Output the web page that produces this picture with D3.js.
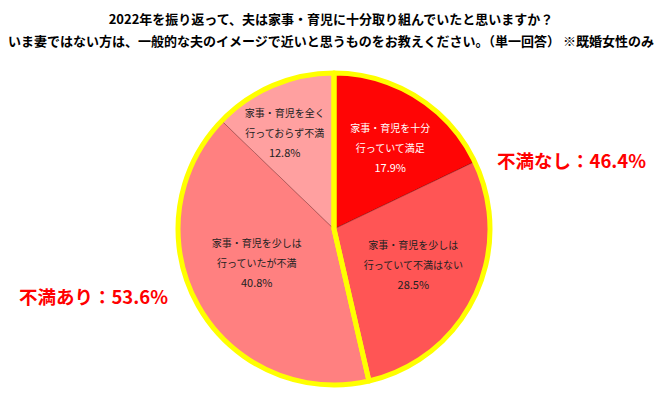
<!DOCTYPE html>
<html>
<head>
<meta charset="utf-8">
<script src="https://cdn.jsdelivr.net/npm/d3@7"></script>
<style>
  body { margin: 0; background: #fff; }
  text { font-family: "Noto Sans CJK JP", "Noto Sans", sans-serif; }
</style>
</head>
<body>
<div id="chart"></div>
<script>
var titleLines = [
  "2022年を振り返って、夫は家事・育児に十分取り組んでいたと思いますか？",
  "いま妻ではない方は、一般的な夫のイメージで近いと思うものをお教えください。（単一回答） ※既婚女性のみ"
]
var categories = [
  ["家事・育児を十分", "行っていて満足"],
  ["家事・育児を少しは", "行っていて不満はない"],
  ["家事・育児を少しは", "行っていたが不満"],
  ["家事・育児を全く", "行っておらず不満"]
]
var values = [17.9, 28.5, 40.8, 12.8]
var sliceColors = ["#ff0505", "#ff5555", "#ff8080", "#ffa0a0"]
var labelColors = ["#ffffff", "#222222", "#222222", "#222222"]
var groupNames = ["不満なし", "不満あり"]
var groupValues = [46.4, 53.6]

var width = 663,
  height = 397,
  cx = 334,
  cy = 229,
  radius = 156

// small shifts from the centroid so the labels sit like in the original
var labelNudge = [[4, 2], [-9, -7], [8, -14], [-11, -6]]

var svg = d3.select("#chart")
  .append("svg")
  .attr("width", width)
  .attr("height", height)

svg.selectAll("text.title")
  .data(titleLines)
  .enter()
  .append("text")
  .attr("class", "title")
  .attr("x", 331)
  .attr("y", function(d, i) { return 24 + i * 22 })
  .attr("text-anchor", "middle")
  .attr("font-size", "13px")
  .attr("font-weight", "bold")
  .attr("fill", "#000")
  .text(function(d) { return d })

var pie = d3.pie().sort(null).value(function(d) { return d })

var arc = d3.arc().innerRadius(0).outerRadius(radius)
var labelArc = d3.arc().innerRadius(98).outerRadius(98)

var g = svg.append("g")
  .attr("transform", "translate(" + cx + "," + cy + ")")

var slices = pie(values)

g.selectAll("path.slice")
  .data(slices)
  .enter()
  .append("path")
  .attr("class", "slice")
  .attr("d", arc)
  .attr("fill", function(d, i) { return sliceColors[i] })
  .attr("stroke", "rgba(90,0,0,0.35)")
  .attr("stroke-width", 1)

// yellow outline round the two groups
g.selectAll("path.group")
  .data(pie(groupValues))
  .enter()
  .append("path")
  .attr("class", "group")
  .attr("d", arc)
  .attr("fill", "none")
  .attr("stroke", "#ffff00")
  .attr("stroke-width", 5)
  .attr("stroke-linejoin", "round")

var labels = g.selectAll("g.label")
  .data(slices)
  .enter()
  .append("g")
  .attr("class", "label")
  .attr("transform", function(d, i) {
    var c = labelArc.centroid(d)
    return "translate(" + (c[0] + labelNudge[i][0]) + "," + (c[1] + labelNudge[i][1]) + ")"
  })

labels.each(function(d, i) {
  var lines = categories[i].concat([values[i].toFixed(1) + "%"])
  d3.select(this).selectAll("text")
    .data(lines)
    .enter()
    .append("text")
    .attr("text-anchor", "middle")
    .attr("y", function(t, j) { return (j - 1) * 20 + 4 })
    .attr("font-size", function(t, j) { return j == 2 ? "11px" : "10px" })
    .attr("fill", labelColors[i])
    .text(function(t) { return t })
})

// group totals on each side
var sideText = [
  { x: 497, y: 168, anchor: "start" },
  { x: 168, y: 304, anchor: "end" }
]
svg.selectAll("text.side")
  .data(groupNames)
  .enter()
  .append("text")
  .attr("class", "side")
  .attr("x", function(d, i) { return sideText[i].x })
  .attr("y", function(d, i) { return sideText[i].y })
  .attr("text-anchor", function(d, i) { return sideText[i].anchor })
  .attr("font-size", "18.5px")
  .attr("font-weight", "bold")
  .attr("fill", "#ff0000")
  .text(function(d, i) { return d + "：" + groupValues[i].toFixed(1) + "%" })
</script>
</body>
</html>
